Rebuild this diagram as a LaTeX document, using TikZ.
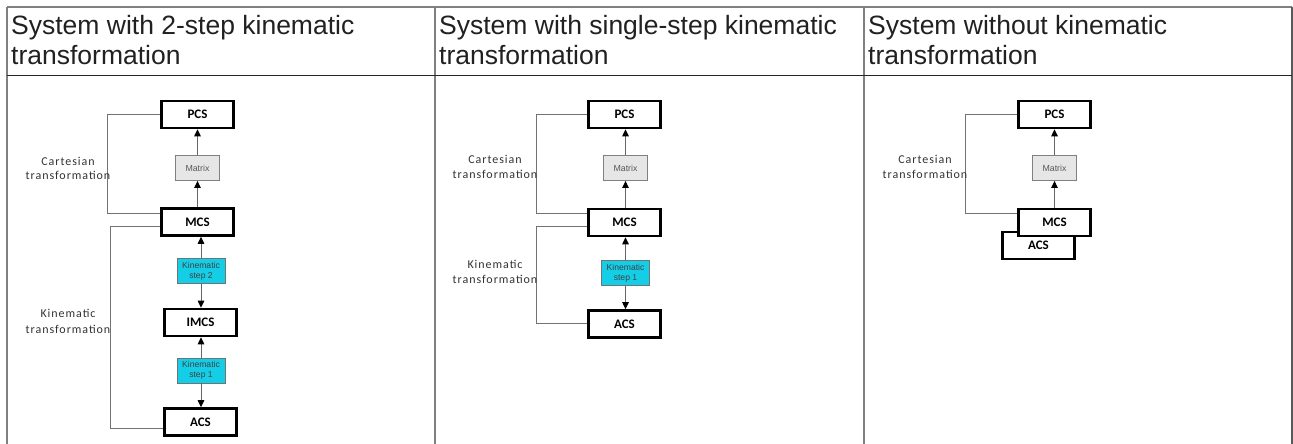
\documentclass[tikz,border=0pt]{standalone}
\usepackage{fontspec}
\setmainfont{Liberation Sans}
\newfontfamily\labfont[LetterSpace=8]{Carlito}
\newfontfamily\carl{Carlito}
\usetikzlibrary{arrows.meta,calc}
\definecolor{kcyan}{RGB}{20,206,232}
\definecolor{matfill}{RGB}{230,230,230}
\definecolor{tblgray}{RGB}{128,128,128}
\begin{document}
\begin{tikzpicture}[x=1pt,y=-1pt,
  hdr/.style={anchor=base west,inner sep=0pt,font=\fontsize{26.5}{30}\selectfont,text=black!87},
  sysbox/.style={draw=black,line width=2.6pt,fill=white,minimum width=72.4pt,minimum height=27pt,inner sep=0pt,font=\carl\bfseries\fontsize{13}{14}\selectfont},
  matbox/.style={draw=black!50,fill=matfill,line width=0.8pt,minimum width=44pt,minimum height=25pt,inner sep=0pt,font=\fontsize{8.8}{10}\selectfont,text=black!65},
  kbox/.style={draw=black!55,fill=kcyan,line width=0.8pt,minimum width=48pt,minimum height=25pt,inner sep=0pt,align=center,font=\fontsize{8.6}{9.8}\selectfont,text=black!75},
  lab/.style={anchor=base,inner sep=0pt,font=\labfont\fontsize{12}{14}\selectfont,text=black!80},
  arr/.style={draw=black!60,line width=1pt,-{Triangle[length=7pt,width=6.5pt,color=black]}},
  conn/.style={draw=black!55,line width=1pt},
  tbl/.style={draw=tblgray,line width=1.5pt}
]
\useasboundingbox (0,0) rectangle (1293,444);
\fill[white] (0,0) rectangle (1293,444);

% table
\draw[tbl] (7,7) -- (1292,7);
\draw[tbl] (7,7) -- (7,444);
\draw[tbl] (435,7) -- (435,444);
\draw[tbl] (864,7) -- (864,444);
\draw[draw=black!65,line width=1.8pt] (1292,7) -- (1292,444);
\draw[draw=black!85,line width=1pt] (7,76) -- (1292,76);

% headers
\node[hdr] (h1a) at (11,35) {System with 2-step kinematic};
\node[hdr] (h1b) at (11,65) {transformation};
\node[hdr] (h2a) at (439,35) {System with single-step kinematic};
\node[hdr] (h2b) at (439,65) {transformation};
\node[hdr] (h3a) at (868,35) {System without kinematic};
\node[hdr] (h3b) at (868,65) {transformation};

% ---------- column 1 ----------
\node[sysbox] (pcs1) at (197.5,114.5) {PCS};
\node[matbox] (mat1) at (197.5,168) {Matrix};
\node[sysbox] (mcs1) at (197.5,222) {MCS};
\node[kbox] (ks2) at (201,271) {Kinematic\\step 2};
\node[sysbox] (imcs) at (200.5,322.5) {IMCS};
\node[kbox] (ks1) at (201,370.5) {Kinematic\\step 1};
\node[sysbox] (acs1) at (200.5,422) {ACS};

\draw[arr] (mat1.north) -- (pcs1.south);
\draw[arr] (mcs1.north) -- (mat1.south);
\draw[arr] (ks2.north) -- (ks2.north |- mcs1.south);
\draw[arr] (ks2.south) -- (imcs.north -| ks2.south);
\draw[arr] (ks1.north) -- (imcs.south -| ks1.north);
\draw[arr] (ks1.south) -- (acs1.north -| ks1.south);

\draw[conn] (pcs1.west) -| (107,213) -- ([yshift=9pt]mcs1.west);
\draw[conn] ([yshift=-4pt]mcs1.west) -| (110.5,428) -- ([yshift=-6pt]acs1.west);

\node[lab] (c1a) at (68,165) {Cartesian};
\node[lab] (c1b) at (68,179) {transformation};
\node[lab] (k1a) at (68,317) {Kinematic};
\node[lab] (k1b) at (68,333) {transformation};

% ---------- column 2 ----------
\node[sysbox] (pcs2) at (624.5,114.5) {PCS};
\node[matbox] (mat2) at (625.5,168) {Matrix};
\node[sysbox] (mcs2) at (624.5,222.5) {MCS};
\node[kbox] (ks1b) at (625.5,273) {Kinematic\\step 1};
\node[sysbox] (acs2) at (624.5,324) {ACS};

\draw[arr] (mat2.north) -- (pcs2.south -| mat2.north);
\draw[arr] (mcs2.north -| mat2.south) -- (mat2.south);
\draw[arr] (ks1b.north) -- (mcs2.south -| ks1b.north);
\draw[arr] (ks1b.south) -- (acs2.north -| ks1b.south);

\draw[conn] (pcs2.west) -| (536,213) -- ([yshift=9.5pt]mcs2.west);
\draw[conn] ([yshift=-3.5pt]mcs2.west) -| (536,323) -- ([yshift=1pt]acs2.west);

\node[lab] (c2a) at (495,163) {Cartesian};
\node[lab] (c2b) at (495,178) {transformation};
\node[lab] (k2a) at (495,268) {Kinematic};
\node[lab] (k2b) at (495,283) {transformation};

% ---------- column 3 ----------
\node[sysbox] (acs3) at (1038.5,245.5) {\raisebox{-5pt}{ACS}};
\node[sysbox] (pcs3) at (1054.5,114.5) {PCS};
\node[matbox] (mat3) at (1054.5,168) {Matrix};
\node[sysbox] (mcs3) at (1054.5,222.5) {MCS};

\draw[arr] (mat3.north) -- (pcs3.south);
\draw[arr] (mcs3.north) -- (mat3.south);
\draw[conn] (pcs3.west) -| (965,213) -- ([yshift=9.5pt]mcs3.west);

\node[lab] (c3a) at (925,163) {Cartesian};
\node[lab] (c3b) at (925,178) {transformation};
\end{tikzpicture}
\end{document}
